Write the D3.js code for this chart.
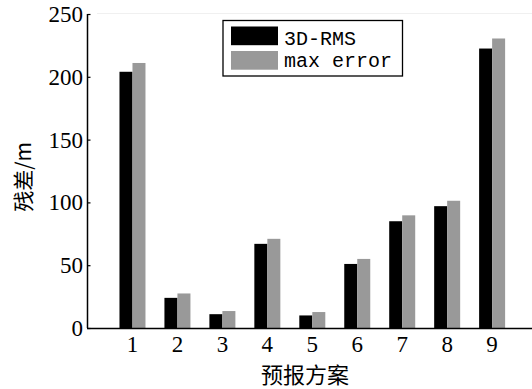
<!DOCTYPE html>
<html><head><meta charset="utf-8">
<script src="https://cdn.jsdelivr.net/npm/d3@7"></script>
<style>body{margin:0;background:#fff}svg{display:block}</style>
</head><body>
<svg id="c" width="532" height="389"></svg>
<script>
const categories = ["1","2","3","4","5","6","7","8","9"];
const seriesNames = ["3D-RMS","max error"];
const rms = [204, 24, 11, 67, 10, 51, 85, 97, 222.5];
const maxErr = [211, 27.5, 13.5, 71, 12.7, 55, 89.7, 101.3, 230.5];
const yTicks = [0, 50, 100, 150, 200, 250];
const colors = ["#000000", "#999999"];

const svg = d3.select("#c");
const y = d3.scaleLinear().domain([0, 250]).range([328, 14]);
const x = d3.scaleBand().domain(categories).range([110, 514.6]).padding(0);
const x1 = d3.scaleBand().domain(seriesNames).range([0, 26]).padding(0);
const off = (x.bandwidth() - 26) / 2;

// faint top line
svg.append("line").attr("x1", 97).attr("x2", 532).attr("y1", 13.5).attr("y2", 13.5)
  .attr("stroke", "#f0f0f0").attr("stroke-width", 1);

const data = categories.map((c, i) => ({c, vals: [rms[i], maxErr[i]]}));
const g = svg.append("g");
data.forEach(d => {
  seriesNames.forEach((s, j) => {
    g.append("rect")
      .attr("x", x(d.c) + off + x1(s))
      .attr("width", x1.bandwidth())
      .attr("y", y(d.vals[j]))
      .attr("height", y(0) - y(d.vals[j]))
      .attr("fill", colors[j]);
  });
});

// y axis
const yAxis = d3.axisRight(y).tickValues(yTicks).tickSize(3).tickFormat("");
const ya = svg.append("g").attr("transform", "translate(87.5,0)").call(yAxis);
ya.select(".domain").attr("d", "M0,14V328").attr("stroke", "#000").attr("stroke-width", 1.5);
ya.selectAll(".tick line").attr("stroke", "#000").attr("stroke-width", 1.2);
svg.append("g").selectAll("text").data(yTicks).join("text")
  .attr("x", 83).attr("y", d => y(d)).attr("dy", "0.35em")
  .attr("text-anchor", "end")
  .style("font-family", "'Liberation Serif', serif").style("font-size", "23px")
  .text(d => d);

// x axis
const xAxis = d3.axisBottom(x).tickSize(0).tickPadding(0);
const xa = svg.append("g").attr("transform", "translate(0,328.5)").call(xAxis);
xa.select(".domain").attr("d", "M87,0H532").attr("stroke", "#000").attr("stroke-width", 1.5);
xa.selectAll(".tick text").attr("y", 23).attr("dy", null)
  .style("font-family", "'Liberation Serif', serif").style("font-size", "23px").attr("fill", "#000");

// axis titles
svg.append("text").attr("x", 305).attr("y", 383).attr("text-anchor", "middle")
  .style("font-family", "'Noto Sans CJK SC', sans-serif").style("font-size", "22px")
  .text("预报方案");
svg.append("text").attr("transform", "translate(31,177) rotate(-90)").attr("text-anchor", "middle")
  .style("font-family", "'Noto Sans CJK SC', sans-serif").style("font-size", "21px")
  .text("残差/m");

// legend
const lg = svg.append("g");
lg.append("rect").attr("x", 223).attr("y", 20.5).attr("width", 179.5).attr("height", 55.5)
  .attr("fill", "#fff").attr("stroke", "#000").attr("stroke-width", 1.3);
seriesNames.forEach((s, j) => {
  lg.append("rect").attr("x", 231).attr("y", 26.5 + j * 24.5).attr("width", 47).attr("height", 18.7)
    .attr("fill", colors[j]);
  lg.append("text").attr("x", 284).attr("y", 45 + j * 22)
    .style("font-family", "'Liberation Mono', monospace").style("font-size", "20px")
    .text(s);
});
</script>
</body></html>
